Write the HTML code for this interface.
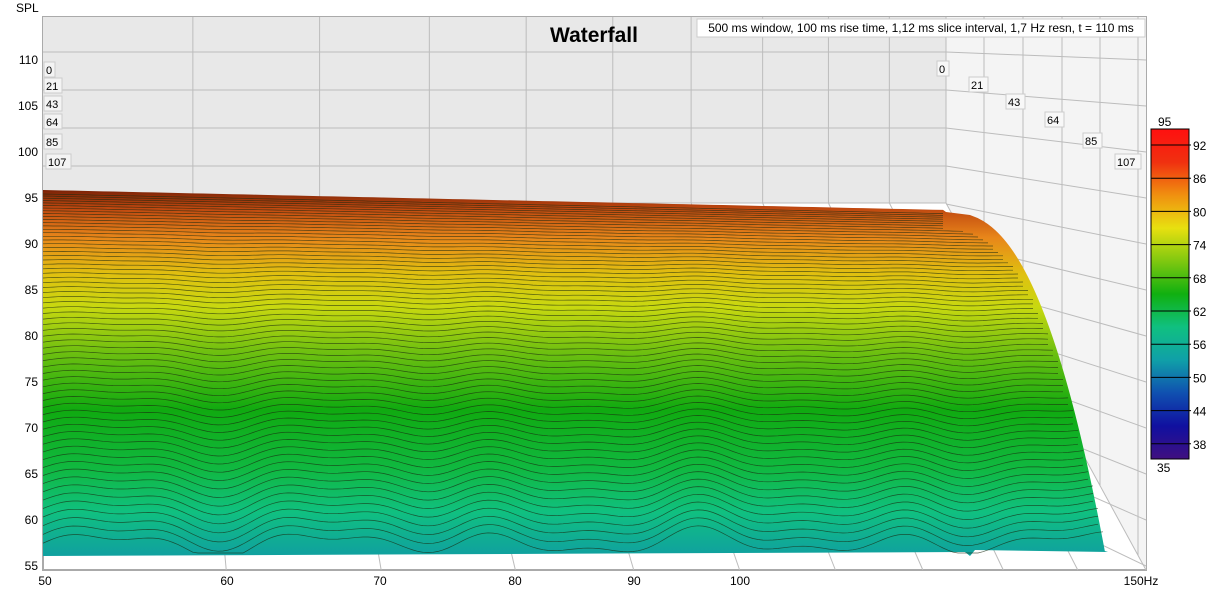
<!DOCTYPE html>
<html><head><meta charset="utf-8"><style>
html,body{margin:0;padding:0;background:#fff;width:1222px;height:595px;overflow:hidden}
svg{display:block;font-family:"Liberation Sans",sans-serif}
</style></head><body>
<svg id="s" width="1222" height="595" viewBox="0 0 1222 595">
<defs>
<linearGradient id="surf" x1="0" y1="190" x2="0" y2="556" gradientUnits="userSpaceOnUse">
<stop offset="0" stop-color="#7a2206"/>
<stop offset="0.05" stop-color="#c04810"/>
<stop offset="0.13" stop-color="#e8861a"/>
<stop offset="0.23" stop-color="#e0c010"/>
<stop offset="0.32" stop-color="#c8d810"/>
<stop offset="0.44" stop-color="#70c010"/>
<stop offset="0.6" stop-color="#10aa10"/>
<stop offset="0.76" stop-color="#10b840"/>
<stop offset="0.88" stop-color="#10c080"/>
<stop offset="1" stop-color="#10a0a0"/>
</linearGradient>
<linearGradient id="cb" x1="0" y1="129" x2="0" y2="459" gradientUnits="userSpaceOnUse">
<stop offset="0" stop-color="#ff1010"/>
<stop offset="0.1" stop-color="#f03010"/>
<stop offset="0.2" stop-color="#f09010"/>
<stop offset="0.3" stop-color="#e8e010"/>
<stop offset="0.4" stop-color="#80c810"/>
<stop offset="0.5" stop-color="#10b010"/>
<stop offset="0.6" stop-color="#10c080"/>
<stop offset="0.7" stop-color="#10a0a8"/>
<stop offset="0.8" stop-color="#1050b0"/>
<stop offset="0.9" stop-color="#1010a0"/>
<stop offset="1" stop-color="#401080"/>
</linearGradient>
</defs>
<rect x="43" y="17" width="1103" height="553" fill="#fff" stroke="#aaa" stroke-width="2"/>
<rect x="43" y="17" width="903" height="186" fill="#e8e8e8"/>
<polygon points="946,17 1146,17 1146,570 946,203" fill="#f4f4f4"/>
<g id="grid" stroke="#bcbcbc" stroke-width="1" fill="none"></g>
<g id="surfg"></g>
<text x="16" y="12" font-size="12" fill="#000">SPL</text>
<g font-size="12" fill="#000" text-anchor="end" id="ylab"></g>
<g font-size="12" fill="#000" text-anchor="middle">
<text x="45" y="585">50</text><text x="227" y="585">60</text><text x="380" y="585">70</text><text x="515" y="585">80</text><text x="634" y="585">90</text><text x="740" y="585">100</text><text x="1141" y="585">150Hz</text>
</g>
<text x="594" y="42" font-size="21" font-weight="bold" text-anchor="middle">Waterfall</text>
<rect x="697" y="19" width="448" height="18" fill="#fff" stroke="#ccc"/>
<text x="921" y="32" font-size="12" text-anchor="middle">500 ms window, 100 ms rise time, 1,12 ms slice interval, 1,7 Hz resn, t = 110 ms</text>
<g id="tl" font-size="11"></g>
<rect x="1151" y="129" width="38" height="330" fill="url(#cb)" stroke="#000"/>
<g id="cbl" font-size="12"></g>
</svg>
<script>
var NS="http://www.w3.org/2000/svg";
function el(p,t,a,txt){var e=document.createElementNS(NS,t);for(var k in a)e.setAttribute(k,a[k]);if(txt!==undefined)e.textContent=txt;p.appendChild(e);return e;}
var g=document.getElementById('grid');
for(var k=0;k<12;k++){var yb=52+38*k;if(yb<203)el(g,'line',{x1:43,y1:yb,x2:946,y2:yb});el(g,'line',{x1:946,y1:yb,x2:1146,y2:60+46*k});}
var fs=[60,70,80,90,100,110,120,130,140];
fs.forEach(function(f){var xb=43+822*Math.log(f/50),xf=43+1005*Math.log(f/50);el(g,'line',{x1:xb,y1:17,x2:xb,y2:203});el(g,'line',{x1:xb,y1:203,x2:xf,y2:570});});
el(g,'line',{x1:946,y1:17,x2:946,y2:203});el(g,'line',{x1:43,y1:203,x2:946,y2:203});el(g,'line',{x1:946,y1:203,x2:1146,y2:570});
[984,1023,1062,1100,1138].forEach(function(x,i){var t=(x-946)/200;el(g,'line',{x1:x,y1:17,x2:x,y2:203+t*367});});
var yl=document.getElementById('ylab');
for(var v=110;v>=55;v-=5){el(yl,'text',{x:38,y:64+(110-v)*9.2},''+v);}
var tl=document.getElementById('tl');
var L=[["0",44,62],["21",44,78],["43",44,96],["64",44,114],["85",44,134],["107",46,154]];
L.forEach(function(a){var w=a[0].length*7+4;el(tl,'rect',{x:a[1],y:a[2],width:w,height:15,fill:'#f4f4f4',stroke:'#ccc'});el(tl,'text',{x:a[1]+2,y:a[2]+12},a[0]);});
var R=[["0",937,61],["21",969,77],["43",1006,94],["64",1045,112],["85",1083,133],["107",1115,154]];
R.forEach(function(a){var w=a[0].length*7+5;el(tl,'rect',{x:a[1],y:a[2],width:w,height:15,fill:'#f8f8f8',stroke:'#ccc'});el(tl,'text',{x:a[1]+2,y:a[2]+12},a[0]);});
var cbl=document.getElementById('cbl');
el(cbl,'text',{x:1158,y:126},'95');el(cbl,'text',{x:1157,y:472},'35');
var cv=[92,86,80,74,68,62,56,50,44,38];
cv.forEach(function(v,i){var y=145+i*33.2;el(cbl,'line',{x1:1151,y1:y,x2:1191,y2:y,stroke:'#000'});el(cbl,'text',{x:1193,y:y+5},''+v);});
var sg=document.getElementById('surfg');
function rightX(y){var t=(y-212)/(552-212);if(t<0)t=0;return 946+159*Math.pow(t,0.4);}
function topY(x){return 190+(x-43)/903*20;}
var pts=[];
for(var x=43;x<=946;x+=10)pts.push(x+','+topY(x));
for(var y=212;y<=552;y+=3)pts.push(rightX(y)+','+y);
pts.push('1108,552','975,550','970,556','965,552','43,556');
el(sg,'polygon',{points:pts.join(' '),fill:'url(#surf)'});
function w(x){var lf=(x-43)/1005;return Math.sin(lf*2*Math.PI*5.2-0.9)*0.6+Math.sin(lf*2*Math.PI*9.5+0.4)*0.4+Math.cos(lf*2*Math.PI*3)*0.3;}
var N=66,d='';
for(var i=1;i<N;i++){var t=i/N;var base=192+360*(0.35*t+0.65*t*t);var xr=rightX(base);var amp=Math.pow(t,2.2)*14;
 var s='';for(var x=43;x<=xr;x+=5){var yy=base+(x-43)/903*20*(1-t)-amp*w(x);if(yy>553)yy=553;s+=(s?'L':'M')+x.toFixed(1)+' '+yy.toFixed(1);}
 d+=s;}
el(sg,'path',{d:d,fill:'none',stroke:'#1a2a10','stroke-width':0.7,'stroke-opacity':0.7});
</script>
</body></html>
